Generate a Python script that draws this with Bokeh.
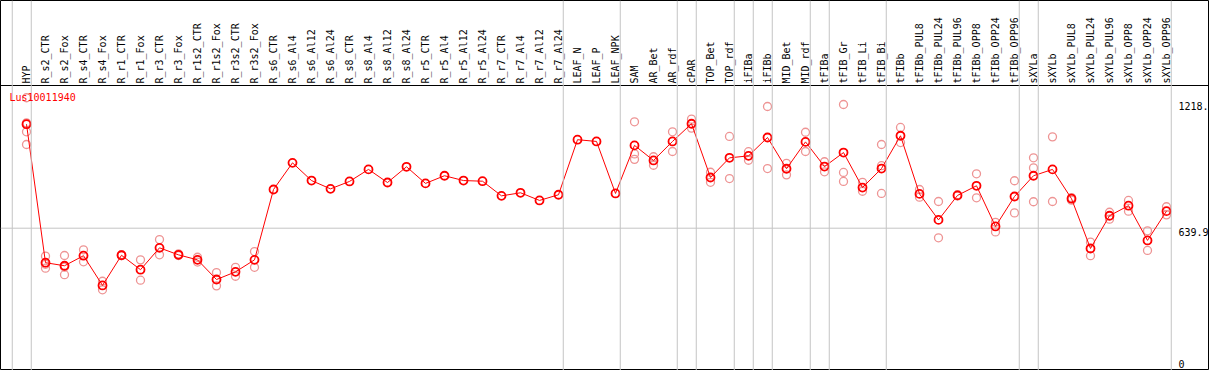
from bokeh.plotting import figure
from bokeh.models import Range1d, FixedTicker, LinearAxis, Span, Label
from bokeh.core.properties import value
from bokeh.embed import file_html
from bokeh.resources import INLINE

# ---------------- data ----------------
gene = "Lus10011940"

categories = [
    "HYP",
    "R_s2_CTR", "R_s2_Fox", "R_s4_CTR", "R_s4_Fox", "R_r1_CTR", "R_r1_Fox",
    "R_r3_CTR", "R_r3_Fox", "R_r1s2_CTR", "R_r1s2_Fox", "R_r3s2_CTR", "R_r3s2_Fox",
    "R_s6_CTR", "R_s6_Al4", "R_s6_Al12", "R_s6_Al24", "R_s8_CTR", "R_s8_Al4",
    "R_s8_Al12", "R_s8_Al24", "R_r5_CTR", "R_r5_Al4", "R_r5_Al12", "R_r5_Al24",
    "R_r7_CTR", "R_r7_Al4", "R_r7_Al12", "R_r7_Al24",
    "LEAF_N", "LEAF_P", "LEAF_NPK",
    "SAM", "AR_Bet", "AR_rdf",
    "cPAR",
    "TOP_Bet", "TOP_rdf",
    "iFIBa",
    "iFIBb",
    "MID_Bet", "MID_rdf",
    "tFIBa",
    "tFIB_Gr", "tFIB_Li", "tFIB_Bi",
    "tFIBb", "tFIBb_PUL8", "tFIBb_PUL24", "tFIBb_PUL96", "tFIBb_OPP8",
    "tFIBb_OPP24", "tFIBb_OPP96",
    "sXYLa",
    "sXYLb", "sXYLb_PUL8", "sXYLb_PUL24", "sXYLb_PUL96", "sXYLb_OPP8",
    "sXYLb_OPP24", "sXYLb_OPP96",
]

# number of consecutive categories in each separated group
group_sizes = [1, 28, 3, 3, 1, 2, 1, 1, 2, 1, 3, 7, 1, 7]

means = [
    1116,
    482, 468, 514, 378, 516, 450, 550, 518, 495, 405, 440, 495,
    817, 939, 858, 820, 854, 909, 849, 921, 845, 880, 858, 855,
    788, 802, 767, 793,
    1045, 1037, 799,
    1019, 950, 1037,
    1118,
    872, 962,
    971,
    1055,
    912, 1035,
    922,
    986, 826, 913,
    1063, 797, 678, 790, 834, 648, 785,
    880,
    909, 775, 547, 697, 743, 584, 718,
]

replicates = [
    [1237, 1122, 1081, 1023],
    [512, 475, 457], [515, 462, 427], [541, 486], [397, 358], [519, 514],
    [495, 402], [588, 518], [522, 515], [507, 485], [437, 376], [461, 420],
    [533, 461],
    [], [], [], [], [], [], [], [], [], [], [], [], [], [], [], [],
    [], [], [],
    [1127, 980, 955], [967, 928], [1081, 991],
    [1139, 1098],
    [896, 850], [1060, 867],
    [990, 951],
    [1197, 913],
    [937, 884], [1079, 991],
    [944, 898],
    [1206, 895, 854], [850, 809], [1023, 926, 799],
    [1101, 1032], [817, 782], [762, 596], [793, 787], [889, 779], [667, 623],
    [857, 710],
    [962, 916, 761],
    [1058, 762], [780, 768], [576, 514], [713, 681], [767, 718], [628, 538],
    [738, 701],
]

y_ticks = [0, 639.9, 1218.0]
y_tick_labels = ["0", "639.9", "1218."]

# ---------------- layout (pixel geometry) ----------------
W, H = 1209, 370
COL0_PX, COL_PITCH_PX = 26.0, 19.0   # first column centre, column pitch
ZERO_PX, MID_PX = 367.5, 227.7       # y pixel of value 0 and of the mid tick
UNITS_PER_PX = y_ticks[1] / (ZERO_PX - MID_PX)


def px_to_x(px):
    return (px - COL0_PX) / COL_PITCH_PX


def px_to_y(py):
    return (ZERO_PX - py) * UNITS_PER_PX


n = len(categories)
idx = list(range(n))

p = figure(
    width=W, height=H,
    x_range=Range1d(px_to_x(0), px_to_x(W)),
    y_range=Range1d(px_to_y(H), px_to_y(0)),
    output_backend="svg", toolbar_location=None,
    x_axis_type=None, y_axis_type=None,
    min_border=0, min_border_left=0, min_border_right=0,
    min_border_top=0, min_border_bottom=0,
)
p.outline_line_color = "black"
p.outline_line_width = 1
p.background_fill_color = "white"
p.border_fill_color = "white"

SEP_COLOR = "#c4c4c4"
SEP_OFF = 0.25
FONT = "DejaVu Sans Mono"

# group separators
ends = [-1]
acc = 0
for g in group_sizes:
    acc += g
    ends.append(acc - 1)
for e in ends:
    p.add_layout(Span(location=e + SEP_OFF, dimension="height",
                      line_color=SEP_COLOR, line_width=1))

# mid horizontal grid line
p.segment(x0=[px_to_x(0)], y0=[y_ticks[1]], x1=[ends[-1] + SEP_OFF], y1=[y_ticks[1]],
          line_color=SEP_COLOR, line_width=1)

# category axis along the top
cat_axis = LinearAxis(
    fixed_location=px_to_y(85),
    ticker=FixedTicker(ticks=idx),
    major_label_overrides={i: c for i, c in enumerate(categories)},
    major_label_orientation="vertical",
    major_tick_in=0, major_tick_out=0, minor_tick_in=0, minor_tick_out=0,
    major_label_standoff=2,
    axis_line_color="black", axis_line_width=1,
    major_label_text_font=FONT,
    major_label_text_font_size="10px",
    major_label_text_color="black",
)
p.add_layout(cat_axis, "above")

# value labels on the right (top-anchored except the bottom one)
lab_x = px_to_x(1178)
p.text(x=[lab_x] * 2, y=y_ticks[1:], text=y_tick_labels[1:],
       text_font=value(FONT), text_font_size="10px", text_color="black",
       text_align="left", text_baseline="top")
p.text(x=[lab_x], y=y_ticks[:1], text=y_tick_labels[:1],
       text_font=value(FONT), text_font_size="10px", text_color="black",
       text_align="left", text_baseline="bottom")

# replicate points
rep_x = [i for i, reps in enumerate(replicates) for _ in reps]
rep_y = [v for reps in replicates for v in reps]
p.scatter(rep_x, rep_y, marker="circle", size=8, fill_color=None,
          line_color="#ee9494", line_width=1.3)

# mean profile
p.line(idx, means, line_color="red", line_width=1)
p.scatter(idx, means, marker="circle", size=8, fill_color=None,
          line_color="red", line_width=1.8)

# gene name
p.add_layout(Label(x=px_to_x(9), y=px_to_y(97), text=gene,
                   text_color="red", text_font=FONT,
                   text_font_size="10px", text_baseline="middle",
                   text_align="left"))

open("out.html", "w").write(file_html(p, INLINE))
